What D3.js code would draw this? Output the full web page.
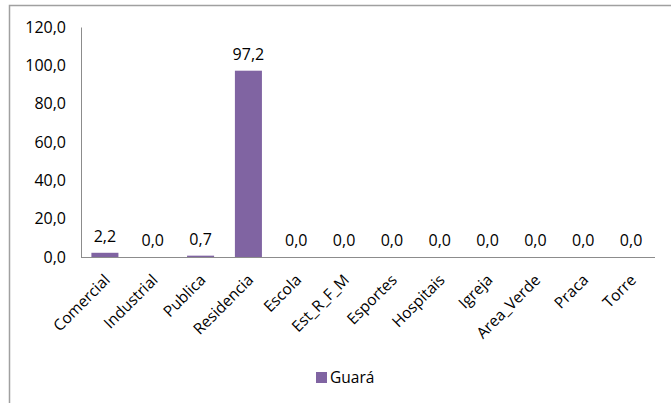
<!DOCTYPE html>
<html>
<head>
<meta charset="utf-8">
<script src="https://cdnjs.cloudflare.com/ajax/libs/d3/7.8.5/d3.min.js"></script>
<style>
  body { margin: 0; background: #fff; }
  text { font-family: "Open Sans", "Liberation Sans", sans-serif; fill: #000; }
</style>
</head>
<body>
<div id="chart"></div>
<script>
var categories = ["Comercial", "Industrial", "Publica", "Residencia", "Escola", "Est_R_F_M",
  "Esportes", "Hospitais", "Igreja", "Area_Verde", "Praca", "Torre"];
var values = [2.2, 0.0, 0.7, 97.2, 0.0, 0.0, 0.0, 0.0, 0.0, 0.0, 0.0, 0.0];
var yTicks = [0, 20, 40, 60, 80, 100, 120];
var seriesName = "Guará";

var width = 671, height = 403;
var plot = {left: 81, right: 655, top: 27, bottom: 257};
var fmt = function(v){ return v.toFixed(1).replace(".", ","); };

var svg = d3.select("#chart").append("svg")
  .attr("width", width)
  .attr("height", height);

// chart frame (left + top edges visible)
svg.append("path")
  .attr("d", "M9.5," + height + " V5.5 H" + width)
  .attr("fill", "none")
  .attr("stroke", "#a0a0a0")
  .attr("stroke-width", 1.5);

var x = d3.scaleBand()
  .domain(categories)
  .range([plot.left, plot.right])
  .paddingInner(0.435)
  .paddingOuter(0.2175);

var y = d3.scaleLinear()
  .domain([0, 120])
  .range([plot.bottom, plot.top]);

// y axis
var yAxis = svg.append("g")
  .attr("transform", "translate(" + plot.left + ",0)")
  .call(d3.axisLeft(y).tickValues(yTicks).tickFormat(fmt).tickSize(0).tickPadding(15));
yAxis.select(".domain").attr("stroke", "#8c8c8c");
yAxis.selectAll("text")
  .attr("font-size", "16px")
  .attr("fill", "#000")
  .attr("font-family", "'Open Sans', sans-serif");

// x axis line
svg.append("line")
  .attr("x1", plot.left).attr("x2", plot.right)
  .attr("y1", y(0) + 0.5).attr("y2", y(0) + 0.5)
  .attr("stroke", "#8c8c8c");

// bars
svg.selectAll("rect.bar")
  .data(values)
  .enter().append("rect")
  .attr("class", "bar")
  .attr("x", function(d, i){ return x(categories[i]); })
  .attr("width", x.bandwidth())
  .attr("y", function(d){ return y(d); })
  .attr("height", function(d){ return y(0) - y(d); })
  .attr("fill", "#8064a2");

// data labels
svg.selectAll("text.val")
  .data(values)
  .enter().append("text")
  .attr("class", "val")
  .attr("x", function(d, i){ return x(categories[i]) + x.bandwidth() / 2; })
  .attr("y", function(d){ return y(d) - 11; })
  .attr("text-anchor", "middle")
  .attr("font-size", "16px")
  .text(fmt);

// category labels, rotated
svg.selectAll("text.cat")
  .data(categories)
  .enter().append("text")
  .attr("class", "cat")
  .attr("text-anchor", "end")
  .attr("font-size", "15.5px")
  .attr("transform", function(d){
    var cx = x(d) + x.bandwidth() / 2 + 6;
    return "translate(" + cx + "," + (y(0) + 24) + ") rotate(-45)";
  })
  .text(function(d){ return d; });

// legend
var legend = svg.append("g").attr("transform", "translate(316,372)");
legend.append("rect")
  .attr("width", 11).attr("height", 11)
  .attr("fill", "#8064a2");
legend.append("text")
  .attr("x", 14).attr("y", 11)
  .attr("font-size", "15.5px")
  .text(seriesName);
</script>
</body>
</html>
